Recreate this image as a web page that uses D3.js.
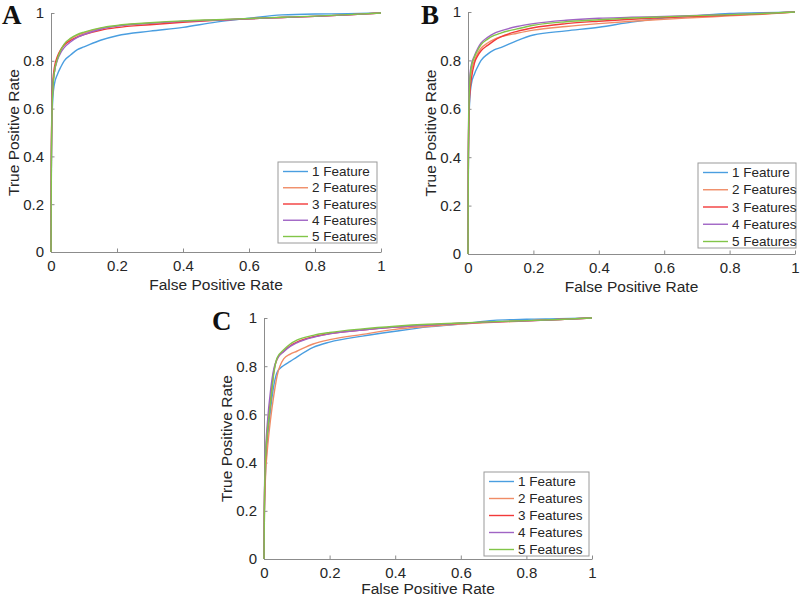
<!DOCTYPE html>
<html><head><meta charset="utf-8">
<script src="https://cdn.jsdelivr.net/npm/d3@7"></script>
<style>body{margin:0;background:#fff}svg{display:block}</style>
</head><body>
<svg id="c" width="800" height="598"></svg>
<script>
// ---- data ----
const seriesNames = ["1 Feature","2 Features","3 Features","4 Features","5 Features"];
const seriesColors = ["#4a9ee0","#f08c66","#f23a3a","#a064c4","#82c548"];
const tickValues = [0,0.2,0.4,0.6,0.8,1];
const tickLabels = ["0","0.2","0.4","0.6","0.8","1"];
const fpr = [0,0.001,0.003,0.006,0.01,0.02,0.03,0.04,0.06,0.08,0.1,0.15,0.2,0.3,0.4,0.5,0.6,0.7,0.8,0.9,1];

const tprA = [
  [0,0.30,0.55,0.65,0.70,0.745,0.775,0.800,0.825,0.847,0.858,0.886,0.905,0.924,0.940,0.962,0.978,0.992,0.996,0.997,1],
  [0,0.35,0.60,0.70,0.75,0.810,0.845,0.868,0.892,0.907,0.917,0.935,0.946,0.957,0.965,0.971,0.976,0.981,0.986,0.992,1],
  [0,0.38,0.62,0.72,0.77,0.820,0.848,0.866,0.886,0.900,0.910,0.928,0.939,0.951,0.961,0.969,0.976,0.981,0.986,0.992,1],
  [0,0.35,0.60,0.70,0.75,0.805,0.835,0.855,0.880,0.898,0.910,0.932,0.945,0.957,0.965,0.971,0.976,0.981,0.986,0.992,1],
  [0,0.33,0.58,0.69,0.75,0.810,0.845,0.870,0.895,0.910,0.920,0.938,0.948,0.959,0.967,0.972,0.977,0.982,0.987,0.993,1]
];
const tprB = [
  [0,0.30,0.55,0.65,0.70,0.745,0.775,0.800,0.826,0.843,0.853,0.882,0.905,0.922,0.937,0.958,0.975,0.985,0.994,0.997,1],
  [0,0.35,0.60,0.70,0.75,0.800,0.830,0.850,0.872,0.887,0.897,0.912,0.925,0.940,0.952,0.962,0.970,0.977,0.984,0.991,1],
  [0,0.35,0.58,0.67,0.72,0.790,0.820,0.840,0.862,0.882,0.897,0.920,0.935,0.952,0.962,0.970,0.977,0.982,0.987,0.993,1],
  [0,0.40,0.65,0.74,0.78,0.820,0.850,0.872,0.895,0.912,0.922,0.940,0.952,0.966,0.974,0.978,0.982,0.986,0.990,0.995,1],
  [0,0.38,0.62,0.72,0.77,0.815,0.843,0.865,0.888,0.903,0.913,0.930,0.945,0.960,0.968,0.975,0.980,0.985,0.989,0.994,1]
];
const tprC = [
  [0,0.15,0.30,0.40,0.48,0.620,0.720,0.775,0.803,0.820,0.838,0.878,0.900,0.925,0.945,0.963,0.975,0.990,0.995,0.997,1],
  [0,0.15,0.28,0.38,0.45,0.580,0.680,0.760,0.830,0.850,0.862,0.892,0.910,0.932,0.953,0.965,0.975,0.982,0.988,0.994,1],
  [0,0.20,0.35,0.45,0.53,0.660,0.780,0.830,0.862,0.885,0.900,0.922,0.935,0.950,0.962,0.971,0.978,0.984,0.988,0.994,1],
  [0,0.22,0.38,0.48,0.56,0.700,0.790,0.830,0.860,0.882,0.897,0.920,0.934,0.950,0.962,0.971,0.978,0.984,0.988,0.994,1],
  [0,0.20,0.35,0.45,0.52,0.650,0.770,0.835,0.868,0.892,0.908,0.928,0.940,0.955,0.966,0.974,0.979,0.985,0.989,0.994,1]
];
const panelLetters = ["A","B","C"];
const xLabel = "False Positive Rate";
const yLabel = "True Positive Rate";

// ---- layout ----
const panels = [
  {letter:panelLetters[0], data:tprA, x0:51,  x1:381, yt:13,  yb:252, lx:2,   ly:24,  xl:38, leg:{x:278,y:162,w:99, h:81}},
  {letter:panelLetters[1], data:tprB, x0:468, x1:795, yt:12,  yb:254, lx:421, ly:24,  xl:38, leg:{x:698,y:163,w:98, h:85}},
  {letter:panelLetters[2], data:tprC, x0:264, x1:592, yt:318, yb:559, lx:212, ly:330, xl:35, leg:{x:484,y:472,w:105,h:84}}
];

const svg = d3.select("#c");
const axisColor = "#8c8c8c";
const textColor = "#262626";

panels.forEach(p => {
  const x = d3.scaleLinear().domain([0,1]).range([p.x0,p.x1]);
  const y = d3.scaleLinear().domain([0,1]).range([p.yb,p.yt]);
  const g = svg.append("g");

  // axes
  const ax = g.append("g").attr("transform",`translate(0,${p.yb})`)
    .call(d3.axisBottom(x).tickValues(tickValues).tickFormat((d,i)=>tickLabels[i]).tickSizeInner(-3.5).tickSizeOuter(0).tickPadding(8));
  const ay = g.append("g").attr("transform",`translate(${p.x0},0)`)
    .call(d3.axisLeft(y).tickValues(tickValues).tickFormat((d,i)=>tickLabels[i]).tickSizeInner(-3.5).tickSizeOuter(0).tickPadding(7));
  [ax,ay].forEach(a=>{
    a.select(".domain").attr("stroke",axisColor).attr("stroke-width",1);
    a.selectAll(".tick line").attr("stroke",axisColor);
    a.selectAll(".tick text").attr("fill",textColor).attr("font-family","Liberation Sans, Arial, sans-serif").attr("font-size",15);
  });
  ax.selectAll(".tick text").attr("dy","0.71em");

  // axis labels
  g.append("text").attr("x",(p.x0+p.x1)/2).attr("y",p.yb+p.xl).attr("text-anchor","middle")
    .attr("font-family","Liberation Sans, Arial, sans-serif").attr("font-size",15.5).attr("fill",textColor).text(xLabel);
  g.append("text").attr("transform",`translate(${p.x0-32},${(p.yt+p.yb)/2}) rotate(-90)`).attr("text-anchor","middle")
    .attr("font-family","Liberation Sans, Arial, sans-serif").attr("font-size",15.5).attr("fill",textColor).text(yLabel);

  // curves
  const line = d3.line().x(d=>x(d[0])).y(d=>y(d[1])).curve(d3.curveMonotoneX);
  p.data.forEach((tpr,i)=>{
    const pts = fpr.map((f,j)=>[f,tpr[j]]);
    g.append("path").attr("d",line(pts)).attr("fill","none")
      .attr("stroke",seriesColors[i]).attr("stroke-width",1.4).attr("stroke-linejoin","round");
  });

  // legend
  const L = p.leg;
  const lg = g.append("g");
  lg.append("rect").attr("x",L.x).attr("y",L.y).attr("width",L.w).attr("height",L.h)
    .attr("fill","#fff").attr("stroke","#9a9a9a").attr("stroke-width",1);
  const step = (L.h-16)/4;
  seriesNames.forEach((n,i)=>{
    const yy = L.y+9.5+i*step;
    lg.append("line").attr("x1",L.x+5).attr("x2",L.x+30).attr("y1",yy).attr("y2",yy)
      .attr("stroke",seriesColors[i]).attr("stroke-width",1.4);
    lg.append("text").attr("x",L.x+34).attr("y",yy).attr("dy","0.35em")
      .attr("font-family","Liberation Sans, Arial, sans-serif").attr("font-size",13.5).attr("fill",textColor).text(n);
  });

  // panel letter
  svg.append("text").attr("x",p.lx).attr("y",p.ly).attr("font-family","Liberation Serif, Times New Roman, serif")
    .attr("font-weight","bold").attr("font-size",27).attr("fill","#111").text(p.letter);
});
</script>
</body></html>
